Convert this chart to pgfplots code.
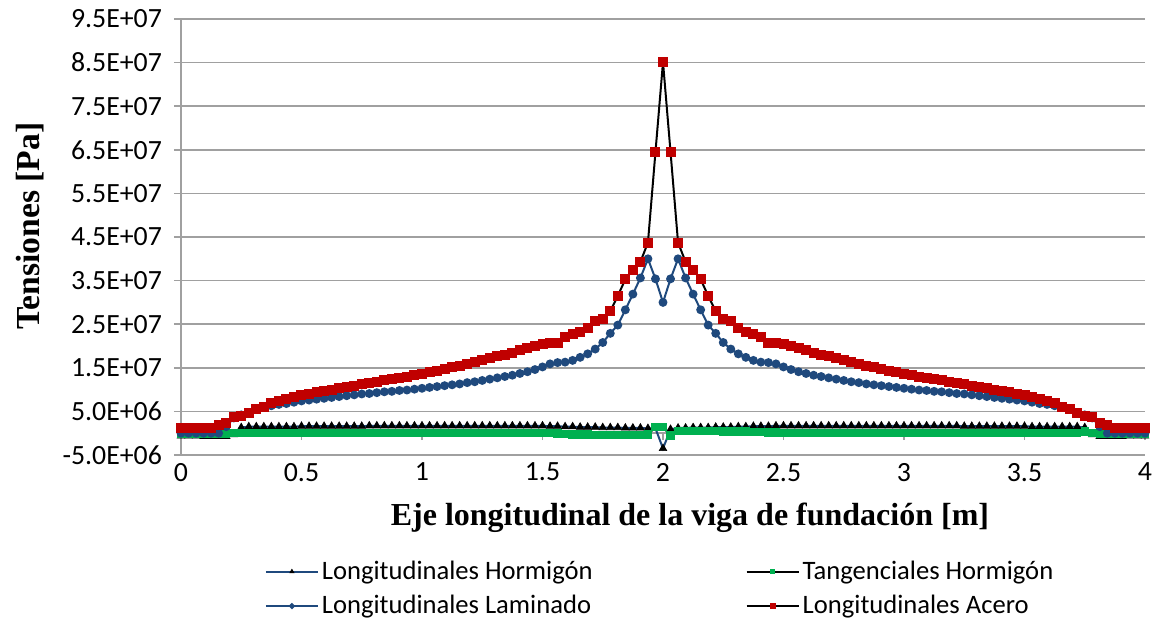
\documentclass[border=0pt]{standalone}
\usepackage{fontspec}
\setmainfont{Liberation Serif}
\newfontfamily\calibri{Carlito}
\usepackage{pgfplots}
\pgfplotsset{compat=1.18}
\usepackage{pgfplotstable}

\definecolor{exred}{RGB}{192,0,0}
\definecolor{exblue}{RGB}{31,73,125}
\definecolor{exgreen}{RGB}{0,176,80}
\definecolor{gridgray}{RGB}{160,160,160}

% values in units of 1E7 Pa
\pgfplotstableread{
x hl tg lam ac
0 -0.06 -0.01 0.00 0.13
0.03125 -0.06 -0.01 0.00 0.13
0.0625 -0.06 -0.01 0.00 0.13
0.09375 -0.07 -0.01 0.00 0.13
0.125 -0.07 -0.01 0.00 0.13
0.15625 -0.07 -0.01 0.00 0.18
0.1875 -0.07 -0.01 0.15 0.23
0.21875 -0.03 0.00 0.35 0.37
0.25 0.13 0.01 0.42 0.40
0.28125 0.15 0.01 0.47 0.46
0.3125 0.15 0.01 0.55 0.56
0.34375 0.15 0.01 0.60 0.61
0.375 0.15 0.01 0.63 0.69
0.40625 0.15 0.01 0.66 0.74
0.4375 0.15 0.01 0.68 0.79
0.46875 0.15 0.01 0.71 0.83
0.5 0.16 0.01 0.74 0.87
0.53125 0.16 0.01 0.76 0.90
0.5625 0.16 0.01 0.78 0.94
0.59375 0.16 0.01 0.80 0.97
0.625 0.16 0.01 0.82 1.00
0.65625 0.16 0.01 0.84 1.03
0.6875 0.16 0.01 0.86 1.06
0.71875 0.16 0.01 0.88 1.09
0.75 0.16 0.01 0.90 1.12
0.78125 0.17 0.01 0.91 1.15
0.8125 0.17 0.01 0.93 1.18
0.84375 0.17 0.01 0.95 1.21
0.875 0.17 0.01 0.96 1.24
0.90625 0.17 0.01 0.98 1.27
0.9375 0.17 0.01 0.99 1.30
0.96875 0.17 0.01 1.01 1.33
1 0.17 0.01 1.03 1.36
1.03125 0.17 0.01 1.05 1.40
1.0625 0.17 0.01 1.07 1.43
1.09375 0.17 0.01 1.09 1.47
1.125 0.17 0.01 1.11 1.51
1.15625 0.17 0.01 1.13 1.55
1.1875 0.17 0.01 1.16 1.59
1.21875 0.17 0.01 1.18 1.63
1.25 0.17 0.01 1.21 1.68
1.28125 0.17 0.01 1.24 1.72
1.3125 0.17 0.01 1.27 1.76
1.34375 0.17 0.01 1.30 1.80
1.375 0.17 0.01 1.33 1.85
1.40625 0.17 0.01 1.37 1.90
1.4375 0.17 0.01 1.41 1.95
1.46875 0.17 0.01 1.46 2.00
1.5 0.17 0.01 1.52 2.05
1.53125 0.16 0.00 1.59 2.07
1.5625 0.16 -0.01 1.62 2.07
1.59375 0.15 -0.02 1.63 2.20
1.625 0.15 -0.03 1.67 2.27
1.65625 0.14 -0.03 1.74 2.31
1.6875 0.14 -0.03 1.82 2.42
1.71875 0.14 -0.04 1.93 2.57
1.75 0.13 -0.04 2.08 2.61
1.78125 0.13 -0.04 2.29 2.80
1.8125 0.13 -0.04 2.48 3.15
1.84375 0.12 -0.04 2.83 3.53
1.875 0.12 -0.04 3.19 3.74
1.90625 0.12 -0.04 3.56 3.93
1.9375 0.11 -0.03 4.00 4.37
1.96875 0.11 0.14 3.54 6.45
2 -0.35 0.14 3.00 8.51
2.03125 0.09 -0.05 3.54 6.45
2.0625 0.12 0.05 4.00 4.37
2.09375 0.12 0.05 3.56 3.93
2.125 0.13 0.05 3.19 3.74
2.15625 0.13 0.05 2.83 3.53
2.1875 0.13 0.05 2.48 3.15
2.21875 0.14 0.05 2.29 2.80
2.25 0.14 0.04 2.08 2.61
2.28125 0.14 0.04 1.93 2.57
2.3125 0.15 0.04 1.82 2.42
2.34375 0.15 0.04 1.74 2.31
2.375 0.16 0.03 1.67 2.27
2.40625 0.16 0.03 1.63 2.20
2.4375 0.16 0.02 1.62 2.07
2.46875 0.17 0.02 1.59 2.07
2.5 0.17 0.01 1.52 2.05
2.53125 0.17 0.01 1.46 2.00
2.5625 0.17 0.01 1.41 1.95
2.59375 0.17 0.01 1.37 1.90
2.625 0.17 0.01 1.33 1.85
2.65625 0.17 0.01 1.30 1.80
2.6875 0.17 0.01 1.27 1.76
2.71875 0.17 0.01 1.24 1.72
2.75 0.17 0.01 1.21 1.68
2.78125 0.17 0.01 1.18 1.63
2.8125 0.17 0.01 1.16 1.59
2.84375 0.17 0.01 1.13 1.55
2.875 0.17 0.01 1.11 1.51
2.90625 0.17 0.01 1.09 1.47
2.9375 0.17 0.01 1.07 1.43
2.96875 0.17 0.01 1.05 1.40
3 0.17 0.01 1.03 1.36
3.03125 0.17 0.01 1.01 1.33
3.0625 0.17 0.01 0.99 1.30
3.09375 0.17 0.01 0.98 1.27
3.125 0.17 0.01 0.96 1.24
3.15625 0.17 0.01 0.95 1.21
3.1875 0.17 0.01 0.93 1.18
3.21875 0.17 0.01 0.91 1.15
3.25 0.16 0.01 0.90 1.12
3.28125 0.16 0.01 0.88 1.09
3.3125 0.16 0.01 0.86 1.06
3.34375 0.16 0.01 0.84 1.03
3.375 0.16 0.01 0.82 1.00
3.40625 0.16 0.01 0.80 0.97
3.4375 0.16 0.01 0.78 0.94
3.46875 0.16 0.01 0.76 0.90
3.5 0.16 0.01 0.74 0.87
3.53125 0.15 0.01 0.71 0.83
3.5625 0.15 0.01 0.68 0.79
3.59375 0.15 0.01 0.66 0.74
3.625 0.15 0.01 0.63 0.69
3.65625 0.15 0.01 0.60 0.61
3.6875 0.15 0.01 0.55 0.56
3.71875 0.15 0.01 0.47 0.46
3.75 0.13 0.04 0.42 0.40
3.78125 -0.03 0.00 0.35 0.37
3.8125 -0.07 -0.01 0.15 0.23
3.84375 -0.07 -0.01 0.00 0.18
3.875 -0.07 -0.01 0.00 0.13
3.90625 -0.07 -0.01 0.00 0.13
3.9375 -0.06 -0.01 0.00 0.13
3.96875 -0.06 -0.01 0.00 0.13
4 -0.06 -0.01 0.00 0.13
}\data

\begin{document}
\begin{tikzpicture}
\useasboundingbox (-90.5pt,-83.5pt) rectangle (487pt,227.5pt);
% x axis line with tick marks at y = 0
\begin{axis}[
  at={(0,0)}, anchor=south west,
  width=482pt, height=218pt, scale only axis,
  xmin=0, xmax=4, ymin=-0.5, ymax=9.5,
  axis x line=middle, axis y line=none,
  xtick={0,0.5,...,4}, xticklabels={},
  xtick align=outside, major tick length=3.5pt,
  axis line style={gridgray, line width=0.75pt, -},
  tick style={gridgray, line width=0.75pt},
]
\end{axis}
\begin{axis}[
  at={(0,0)}, anchor=south west,
  width=482pt, height=218pt, scale only axis,
  xmin=0, xmax=4, ymin=-0.5, ymax=9.5,
  clip=false,
  axis y line*=left, axis x line*=bottom,
  axis line style={gridgray, line width=0.75pt, -},
  xtick={0,0.5,1,1.5,2,2.5,3,3.5,4},
  xticklabels={0,0.5,1,1.5,2,2.5,3,3.5,4},
  x tick style={draw=none},
  ytick={-0.5,0.5,1.5,2.5,3.5,4.5,5.5,6.5,7.5,8.5,9.5},
  yticklabels={-5.0E+06,5.0E+06,1.5E+07,2.5E+07,3.5E+07,4.5E+07,5.5E+07,6.5E+07,7.5E+07,8.5E+07,9.5E+07},
  ytick align=outside, major tick length=3.5pt,
  y tick style={gridgray, line width=0.75pt},
  ymajorgrids, grid style={gridgray, line width=0.75pt},
  /pgf/number format/assume math mode=true,
  tick label style={font=\calibri\fontsize{13.9}{16}\selectfont},
  yticklabel style={xshift=-2.5pt},
  xticklabel style={yshift=-0.5pt},
  xlabel={\bfseries Eje longitudinal de la viga de fundación [m]},
  ylabel={\bfseries Tensiones [Pa]},
  xlabel style={at={(axis description cs:0.528,-0.1445)}, anchor=center, font=\fontsize{16}{19}\selectfont},
  ylabel style={at={(axis description cs:-0.157,0.525)}, anchor=center, font=\fontsize{16.8}{19}\selectfont},
  legend columns=2,
  legend cell align=left,
  legend image code/.code={\draw[mark repeat=2,mark phase=2,#1,every mark/.append style={scale=0.55}] plot coordinates {(0pt,0pt)(13pt,0pt)(26pt,0pt)};},
  legend style={at={(axis description cs:0.4975,-0.307)}, anchor=center,
    draw=none, fill=none, inner sep=0pt,
    font=\calibri\fontsize{13.3}{15}\selectfont,
    row sep=3.5pt,
    /tikz/every even column/.append style={column sep=75pt},
    nodes={inner sep=1.5pt}},
]
\addplot[exblue, line width=1pt, mark=triangle*, mark size=2.2pt, mark options={fill=black, draw=black, line width=0.3pt}]
  table[x=x, y=hl]{\data};
\addlegendentry{Longitudinales Hormigón}
\addplot[black, line width=1pt, mark=square*, mark size=1.6pt, mark options={fill=exgreen, draw=exgreen}]
  table[x=x, y=tg]{\data};
\addlegendentry{Tangenciales Hormigón}
\addplot[exblue, line width=1pt, mark=*, mark size=1.7pt, mark options={fill=exblue, draw=exblue}]
  table[x=x, y=lam]{\data};
\addlegendentry{Longitudinales Laminado}
\addplot[black, line width=1pt, mark=square*, mark size=2pt, mark options={fill=exred, draw=exred}]
  table[x=x, y=ac]{\data};
\addlegendentry{Longitudinales Acero}
\end{axis}
\end{tikzpicture}
\end{document}
